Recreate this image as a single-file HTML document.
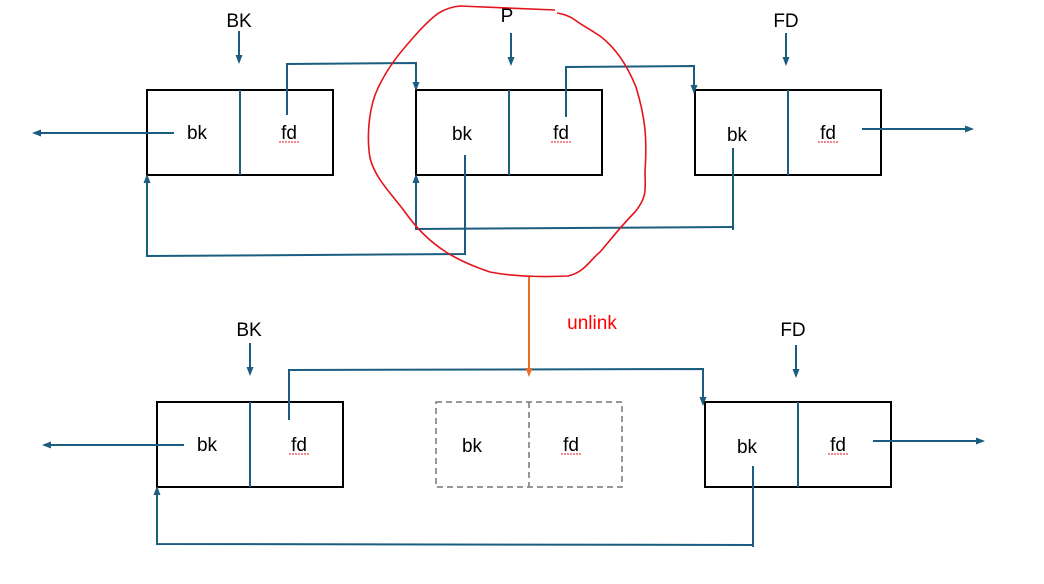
<!DOCTYPE html>
<html><head><meta charset="utf-8"><style>
html,body{margin:0;padding:0;background:#fff;width:1044px;height:584px;overflow:hidden}
svg{display:block}
text{font-family:"Liberation Sans",sans-serif;font-size:19px;fill:#000}
</style></head><body>
<svg width="1044" height="584" viewBox="0 0 1044 584" xmlns="http://www.w3.org/2000/svg">
<defs>
<marker id="a" markerWidth="10" markerHeight="10" refX="7" refY="5" orient="auto" markerUnits="userSpaceOnUse"><path d="M0,1.5 L9,5 L0,8.5 Z" fill="#1b5d7f"/></marker>
<marker id="o" markerWidth="10" markerHeight="10" refX="7" refY="5" orient="auto" markerUnits="userSpaceOnUse"><path d="M0,1.5 L9,5 L0,8.5 Z" fill="#e8702a"/></marker>
</defs>
<g fill="none" stroke="#000" stroke-width="2">
<rect x="147" y="90" width="186" height="85"/>
<rect x="416" y="90" width="186" height="85"/>
<rect x="695" y="90" width="186" height="85"/>
<rect x="157" y="402" width="186" height="85"/>
<rect x="705" y="402" width="186" height="85"/>
</g>
<g fill="none" stroke="#777" stroke-width="1.5" stroke-dasharray="6,4">
<rect x="436" y="402" width="186" height="85"/>
<line x1="529" y1="402" x2="529" y2="487"/>
</g>
<g fill="none" stroke="#1b5d7f" stroke-width="2">
<line x1="240" y1="90" x2="240" y2="175"/>
<line x1="509" y1="90" x2="509" y2="175"/>
<line x1="788" y1="90" x2="788" y2="175"/>
<line x1="250" y1="402" x2="250" y2="487"/>
<line x1="798" y1="402" x2="798" y2="487"/>
<line x1="239" y1="31" x2="239" y2="62" marker-end="url(#a)"/>
<line x1="511" y1="33" x2="511" y2="64" marker-end="url(#a)"/>
<line x1="786" y1="33" x2="786" y2="64" marker-end="url(#a)"/>
<line x1="174" y1="133" x2="34" y2="133" marker-end="url(#a)"/>
<polyline points="287,115 287,64 416,63 416,89" marker-end="url(#a)"/>
<polyline points="566,117 566,67 694,66 694,92" marker-end="url(#a)"/>
<polyline points="465,155 465,254 147,256 147,176" marker-end="url(#a)"/>
<polyline points="733,148 733,230"/>
<polyline points="733,227 416,229 416,176" marker-end="url(#a)"/>
<line x1="862" y1="129" x2="972" y2="129" marker-end="url(#a)"/>
<line x1="250" y1="343" x2="250" y2="374" marker-end="url(#a)"/>
<line x1="796" y1="345" x2="796" y2="376" marker-end="url(#a)"/>
<line x1="184" y1="445" x2="44" y2="445" marker-end="url(#a)"/>
<polyline points="289,420 289,370 703,369 703,404" marker-end="url(#a)"/>
<polyline points="753,466 753,547"/>
<polyline points="753,545 157,544 157,488" marker-end="url(#a)"/>
<line x1="873" y1="441" x2="983" y2="441" marker-end="url(#a)"/>
</g>
<line x1="529" y1="277" x2="529" y2="375" stroke="#e8702a" stroke-width="2" marker-end="url(#o)"/>
<path d="M555,10 L460,6 C440,8 432,18 420,30 C400,52 385,70 375,95 C368,115 367,140 370,158 C375,178 390,192 405,212 C430,248 460,262 490,272 C515,277 545,277 568,276 C585,272 590,260 600,252 C612,238 622,225 635,212 C648,196 645,188 645,172 C647,140 646,120 636,87 C625,60 612,45 600,36 C588,28 580,24 575,20 C568,15 562,14 557,13" fill="none" stroke="#e4141c" stroke-width="1.6"/>
<text x="239" y="27" text-anchor="middle">BK</text>
<text x="507" y="22" text-anchor="middle">P</text>
<text x="786" y="27" text-anchor="middle">FD</text>
<text x="249" y="336" text-anchor="middle">BK</text>
<text x="793" y="336" text-anchor="middle">FD</text>
<text x="592" y="329" text-anchor="middle" style="fill:#f00">unlink</text>
<text x="197" y="139" text-anchor="middle">bk</text>
<text x="289" y="139" text-anchor="middle">fd</text>
<text x="462" y="140" text-anchor="middle">bk</text>
<text x="561" y="139" text-anchor="middle">fd</text>
<text x="737" y="141" text-anchor="middle">bk</text>
<text x="828" y="139" text-anchor="middle">fd</text>
<text x="207" y="451" text-anchor="middle">bk</text>
<text x="299" y="451" text-anchor="middle">fd</text>
<text x="472" y="452" text-anchor="middle">bk</text>
<text x="571" y="451" text-anchor="middle">fd</text>
<text x="747" y="453" text-anchor="middle">bk</text>
<text x="838" y="451" text-anchor="middle">fd</text>
<g stroke="#e4141c" stroke-width="1" stroke-dasharray="2,1">
<line x1="279" y1="142" x2="300" y2="142"/><line x1="551" y1="142" x2="572" y2="142"/><line x1="818" y1="142" x2="839" y2="142"/>
<line x1="289" y1="454" x2="310" y2="454"/><line x1="561" y1="454" x2="582" y2="454"/><line x1="828" y1="454" x2="849" y2="454"/>
</g>
</svg>
</body></html>
